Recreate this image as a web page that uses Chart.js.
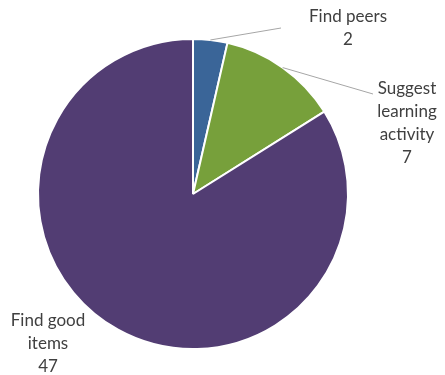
<!DOCTYPE html>
<html lang="en">
<head>
  <meta charset="UTF-8">
  <title>Pie</title>
  <script src="https://cdn.jsdelivr.net/npm/chart.js"></script>
  <style>
    body { margin: 0; padding: 0; background: #fff; }
    .wrap { position: relative; width: 445px; height: 375px; }
  </style>
</head>
<body>
<div class="wrap"><canvas id="pieChart"></canvas></div>
<script>
  const categories = ["Find peers", "Suggest learning activity", "Find good items"];
  const labelLines = [["Find peers", "2"], ["Suggest", "learning", "activity", "7"], ["Find good", "items", "47"]];
  const counts = [2, 7, 47];
  const colors = ["#3a6598", "#77a03b", "#523d73"];

  // label placement: text centre x, first line y, optional leader end
  const labelPos = [
    { x: 348, y: 17, end: [281, 28] },
    { x: 407, y: 89, end: [373, 94] },
    { x: 48, y: 321, end: null }
  ];

  const sliceLabels = {
    id: 'sliceLabels',
    afterDatasetsDraw(chart) {
      const ctx = chart.ctx;
      const arcs = chart.getDatasetMeta(0).data;
      ctx.save();
      ctx.font = '17px Lato';
      ctx.fillStyle = '#404040';
      ctx.textAlign = 'center';
      ctx.textBaseline = 'middle';
      arcs.forEach((arc, i) => {
        const p = labelPos[i];
        if (p.end) {
          const mid = (arc.startAngle + arc.endAngle) / 2;
          const sx = arc.x + Math.cos(mid) * arc.outerRadius;
          const sy = arc.y + Math.sin(mid) * arc.outerRadius;
          ctx.strokeStyle = '#a6a6a6';
          ctx.lineWidth = 1;
          ctx.beginPath();
          ctx.moveTo(sx, sy);
          ctx.lineTo(p.end[0], p.end[1]);
          ctx.stroke();
        }
        labelLines[i].forEach((t, k) => ctx.fillText(t, p.x, p.y + k * 23));
      });
      ctx.restore();
    }
  };

  new Chart(document.getElementById('pieChart'), {
    type: 'pie',
    data: {
      labels: categories,
      datasets: [{
        data: counts,
        backgroundColor: colors,
        borderColor: '#ffffff',
        borderWidth: 2
      }]
    },
    options: {
      responsive: true,
      maintainAspectRatio: false,
      animation: false,
      layout: { padding: { left: 37, right: 96, top: 38, bottom: 25 } },
      plugins: {
        legend: { display: false },
        tooltip: { enabled: false }
      }
    },
    plugins: [sliceLabels]
  });
</script>
</body>
</html>
